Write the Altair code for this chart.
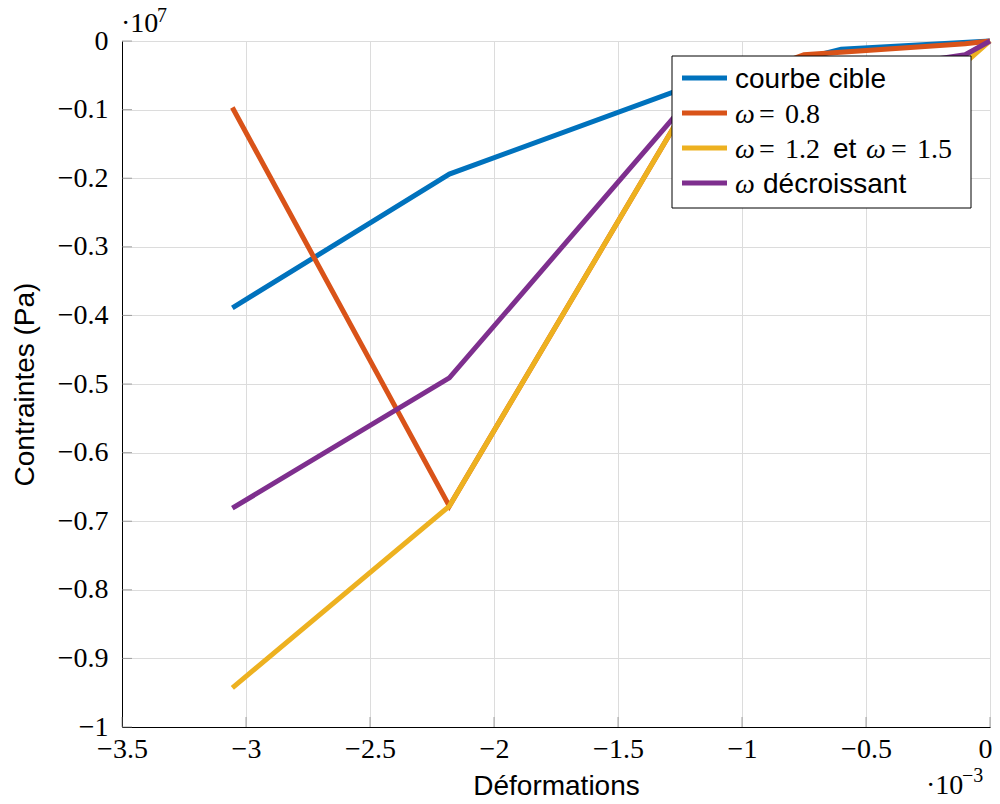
import altair as alt
import pandas as pd

# ---- data (strain in units of 1e-3, stress in units of 1e7 Pa) ----
cible_x = [-3.055, -2.18, -1.25, -0.6, 0.0]
cible_y = [-0.389, -0.194, -0.071, -0.012, 0.0]

w08_x = [-3.055, -2.18, -1.2, -0.75, -0.1, 0.0]
w08_y = [-0.097, -0.678, -0.08, -0.02, -0.004, 0.0]

w12_x = [-3.055, -2.18, -1.2, -0.1, 0.0]
w12_y = [-0.943, -0.678, -0.08, -0.032, 0.0]

wdec_x = [-3.055, -2.18, -1.2, -0.1, 0.0]
wdec_y = [-0.681, -0.491, -0.08, -0.02, 0.0]

series_names = ["courbe cible", "ω = 0.8", "ω = 1.2 et ω = 1.5", "ω décroissant"]
series_colors = ["#0072BD", "#D95319", "#EDB120", "#7E2F8E"]

x_ticks = [-3.5, -3, -2.5, -2, -1.5, -1, -0.5, 0]
y_ticks = [-1, -0.9, -0.8, -0.7, -0.6, -0.5, -0.4, -0.3, -0.2, -0.1, 0]

x_title = "Déformations"
y_title = "Contraintes (Pa)"

# ---- layout ----
W, H = 868, 686
OX, OY = 122, 41  # page position of the plot origin

SERIF = "Liberation Serif"
SANS = "Liberation Sans"
FS = 28


def vx(p):
    return p - OX


def vy(p):
    return p - OY


x_axis = alt.Axis(
    values=x_ticks, format=".1~f", grid=True, gridColor="#dcdcdc", gridWidth=1,
    ticks=False, domainColor="black", domainWidth=1,
    labelFont=SERIF, labelFontSize=FS, labelColor="black", labelPadding=8,
    labelFlush=False, labelOverlap=False,
    labelOffset={"condition": {"test": "datum.value == 0", "value": -5}, "value": 0},
    title=x_title, titleFont=SANS, titleFontSize=FS, titleFontWeight="normal",
    titleColor="black", titlePadding=9,
)
y_axis = alt.Axis(
    values=y_ticks, format=".1~f", grid=True, gridColor="#dcdcdc", gridWidth=1,
    ticks=False, domainColor="black", domainWidth=1,
    labelFont=SERIF, labelFontSize=FS, labelColor="black", labelPadding=14,
    labelFlush=False, labelOverlap=False,
    title=y_title, titleFont=SANS, titleFontSize=FS, titleFontWeight="normal",
    titleColor="black", titlePadding=18,
)
x_scale = alt.Scale(domain=[-3.5, 0], nice=False, zero=False)
y_scale = alt.Scale(domain=[-1, 0], nice=False, zero=False)


def X(field):
    return alt.X(f"{field}:Q", scale=x_scale, axis=x_axis)


def Y(field):
    return alt.Y(f"{field}:Q", scale=y_scale, axis=y_axis)


layers = []

# inner ticks
ytick_df = pd.DataFrame({"v": y_ticks})
xtick_df = pd.DataFrame({"u": x_ticks})
layers.append(
    alt.Chart(ytick_df).mark_tick(orient="horizontal", size=10, thickness=1, color="#808080")
    .encode(y=Y("v"), x=alt.value(5))
)
layers.append(
    alt.Chart(xtick_df).mark_tick(orient="vertical", size=10, thickness=1, color="#808080")
    .encode(x=X("u"), y=alt.value(H - 5))
)

# series lines
series_data = [(cible_x, cible_y), (w08_x, w08_y), (w12_x, w12_y), (wdec_x, wdec_y)]
for (xs, ys), name, col in zip(series_data, series_names, series_colors):
    df = pd.DataFrame({"x": xs, "y": ys, "o": list(range(len(xs))), "s": name})
    layers.append(
        alt.Chart(df).mark_line(color=col, strokeWidth=5, strokeJoin="miter", strokeCap="butt")
        .encode(x=X("x"), y=Y("y"), order="o:Q")
    )

# manual legend box
one = pd.DataFrame({"k": [0]})
layers.append(
    alt.Chart(one).mark_rect(fill="white", stroke="black", strokeWidth=1)
    .encode(x=alt.value(vx(672)), x2=alt.value(vx(971)),
            y=alt.value(vy(56)), y2=alt.value(vy(208)))
)
row_centers = [78, 113, 148, 183]
for col, yc in zip(series_colors, row_centers):
    layers.append(
        alt.Chart(one).mark_rule(color=col, strokeWidth=5)
        .encode(x=alt.value(vx(682)), x2=alt.value(vx(727)), y=alt.value(vy(yc)))
    )

# legend label pieces: (text, font, style, align, page x, row)
legend_pieces = [
    ("courbe cible", SANS, "normal", "left", 735, 0),
    ("ω", SERIF, "italic", "left", 735, 1), ("=", SERIF, "normal", "center", 767, 1),
    ("0.8", SERIF, "normal", "left", 785, 1),
    ("ω", SERIF, "italic", "left", 735, 2), ("=", SERIF, "normal", "center", 767, 2),
    ("1.2", SERIF, "normal", "left", 785, 2), ("et", SANS, "normal", "left", 833, 2),
    ("ω", SERIF, "italic", "left", 866, 2), ("=", SERIF, "normal", "center", 899, 2),
    ("1.5", SERIF, "normal", "left", 917, 2),
    ("ω", SERIF, "italic", "left", 735, 3), ("décroissant", SANS, "normal", "left", 763, 3),
]
row_baselines = [88, 123, 158, 193]
for txt, font, style, al, px, row in legend_pieces:
    layers.append(
        alt.Chart(pd.DataFrame({"t": [txt]}))
        .mark_text(align=al, baseline="alphabetic", font=font, fontStyle=style,
                   fontSize=FS, color="black")
        .encode(text="t:N", x=alt.value(vx(px)), y=alt.value(vy(row_baselines[row])))
    )

# axis multipliers
mult_pieces = [
    ("·10", FS, 121, 32),
    ("7", 20, 157, 22),
    ("·10", FS, 926, 794),
    ("−3", 20, 962, 782),
]
for txt, size, px, py in mult_pieces:
    layers.append(
        alt.Chart(pd.DataFrame({"t": [txt]}))
        .mark_text(align="left", baseline="alphabetic", font=SERIF, fontSize=size, color="black")
        .encode(text="t:N", x=alt.value(vx(px)), y=alt.value(vy(py)))
    )

chart = (
    alt.layer(*layers)
    .properties(
        width=W, height=H,
        autosize=alt.AutoSizeParams(type="none"),
        padding={"left": 114, "top": 33, "right": 2, "bottom": 69},
        background="white",
    )
    .configure_view(stroke=None)
)

chart.save("out.html", embed_options={"renderer": "svg", "actions": False})
